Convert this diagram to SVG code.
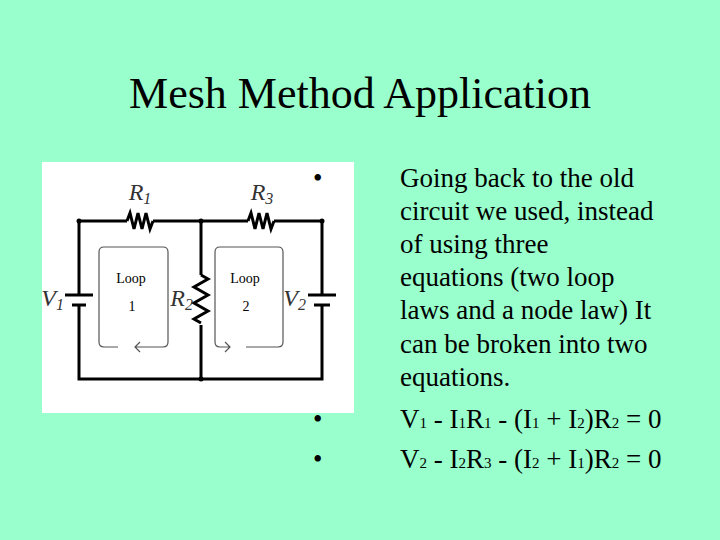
<svg xmlns="http://www.w3.org/2000/svg" width="720" height="540" viewBox="0 0 720 540">
<style>
.w{stroke:#000;stroke-width:3;fill:none}
.r{stroke:#000;stroke-width:3;fill:none;stroke-linejoin:miter}
.lp{stroke:#555;stroke-width:1.2;fill:none}
.cl{font-family:"Liberation Serif",serif;font-style:italic;font-size:24px;fill:#333}
.ll{font-family:"Liberation Serif",serif;font-size:14px;fill:#000}
.t{font-family:"Liberation Serif",serif;font-size:27px;fill:#000}
.s{font-size:15px}
</style>
<rect width="720" height="540" fill="#99ffcc"/>
<text x="360" y="108" text-anchor="middle" font-family="Liberation Serif,serif" font-size="44">Mesh Method Application</text>
<g id="circuit">
<rect x="42" y="162" width="312" height="251" fill="#fff"/>
<g id="wires">
<path class="w" d="M79 221H127M153 221H248M274 221H322M79 221V295M79 305V379H322V305M322 295V221M201 221V275M201 325V379"/>
<line class="w" x1="65" y1="295" x2="93" y2="295"/><line class="w" x1="72" y1="305" x2="86" y2="305" stroke-width="4"/>
<line class="w" x1="308" y1="295" x2="336" y2="295"/><line class="w" x1="314" y1="305" x2="330" y2="305" stroke-width="4"/>
<circle cx="79" cy="221" r="2.5"/><circle cx="201" cy="221" r="2.5"/><circle cx="322" cy="221" r="2.5"/><circle cx="201" cy="379" r="2.5"/>
</g>
<g id="R1"><path class="r" d="M127 221l3-8 4 16 4-16 4 16 4-16 4 16 3-8"/><text class="cl" x="140" y="200" text-anchor="middle">R<tspan font-size="16" dy="4">1</tspan></text></g>
<g id="R3"><path class="r" d="M248 221l3-8 4 16 4-16 4 16 4-16 4 16 3-8"/><text class="cl" x="262" y="200" text-anchor="middle">R<tspan font-size="16" dy="4">3</tspan></text></g>
<g id="R2"><path class="r" d="M201 275l7 4-14 8 14 8-14 8 14 8-14 8 7 4"/><text class="cl" x="193" y="306" text-anchor="end">R<tspan font-size="16" dy="4">2</tspan></text></g>
<g id="V1"><text class="cl" x="64" y="306" text-anchor="end">V<tspan font-size="16" dy="4">1</tspan></text></g>
<g id="V2"><text class="cl" x="306" y="306" text-anchor="end">V<tspan font-size="16" dy="4">2</tspan></text></g>
<g id="loop1"><path class="lp" d="M118 347H104Q99 347 99 342V252Q99 247 104 247H163Q168 247 168 252V342Q168 347 163 347H135M140 342L135 347L140 352"/><text class="ll" x="131" y="283" text-anchor="middle">Loop</text><text class="ll" x="132" y="311" text-anchor="middle">1</text></g>
<g id="loop2"><path class="lp" d="M246 347H278Q283 347 283 342V252Q283 247 278 247H220Q215 247 215 252V342Q215 347 220 347H230M225 342L230 347L225 352"/><text class="ll" x="245" y="283" text-anchor="middle">Loop</text><text class="ll" x="246" y="311" text-anchor="middle">2</text></g>
</g>
<g id="text" class="t">
<text x="313" y="187">•</text>
<text x="400" y="187">Going back to the old</text>
<text x="400" y="220">circuit we used, instead</text>
<text x="400" y="253">of using three</text>
<text x="400" y="286">equations (two loop</text>
<text x="400" y="319">laws and a node law) It</text>
<text x="400" y="353">can be broken into two</text>
<text x="400" y="386">equations.</text>
<text x="313" y="428">•</text>
<text x="400" y="428">V<tspan class="s">1</tspan> - I<tspan class="s">1</tspan>R<tspan class="s">1</tspan> - (I<tspan class="s">1</tspan> + I<tspan class="s">2</tspan>)R<tspan class="s">2</tspan> = 0</text>
<text x="313" y="468">•</text>
<text x="400" y="468">V<tspan class="s">2</tspan> - I<tspan class="s">2</tspan>R<tspan class="s">3</tspan> - (I<tspan class="s">2</tspan> + I<tspan class="s">1</tspan>)R<tspan class="s">2</tspan> = 0</text>
</g>
</svg>
